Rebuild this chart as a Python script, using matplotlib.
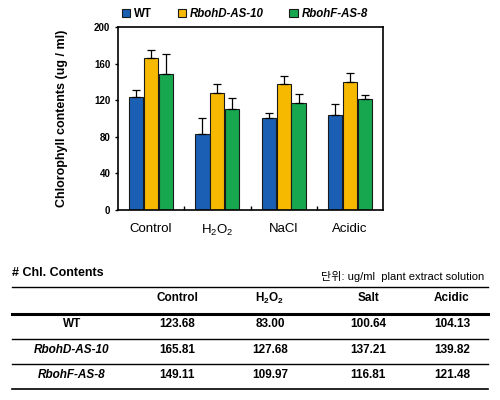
import numpy as np
import matplotlib
matplotlib.use("Agg")
import matplotlib.pyplot as plt
from matplotlib.lines import Line2D

plt.rcParams['font.family'] = ['Liberation Sans', 'Noto Sans CJK KR', 'DejaVu Sans']
plt.rcParams['mathtext.fontset'] = 'custom'
plt.rcParams['mathtext.rm'] = 'Liberation Sans'
plt.rcParams['mathtext.it'] = 'Liberation Sans:italic'
plt.rcParams['mathtext.bf'] = 'Liberation Sans:bold'

# data
groups = ['Control', r'$\mathregular{H_2O_2}$', 'NaCl', 'Acidic']
table_cols = ['Control', r'$\mathbf{H_2O_2}$', 'Salt', 'Acidic']
lines = ['WT', 'RbohD-AS-10', 'RbohF-AS-8']
wt = [123.68, 83.00, 100.64, 104.13]
rbohd = [165.81, 127.68, 137.21, 139.82]
rbohf = [149.11, 109.97, 116.81, 121.48]
wt_err = [8, 18, 5.5, 12]
rbohd_err = [9.5, 9.5, 9.5, 9.5]
rbohf_err = [21, 12, 10, 4.5]

colors = ['#1b5fb4', '#f7b900', '#17a84f']
values = [wt, rbohd, rbohf]
errs = [wt_err, rbohd_err, rbohf_err]

fig = plt.figure(figsize=(5, 4), dpi=100)
ax = fig.add_axes([0.236, 0.475, 0.53, 0.4575])

x = np.arange(len(groups))
w = 0.215
offs = [-0.225, 0, 0.225]
handles = []
for k in range(3):
    b = ax.bar(x + offs[k], values[k], w, color=colors[k], edgecolor='#1a1a1a',
               linewidth=0.8, zorder=2)
    ax.errorbar(x + offs[k], values[k],
                yerr=[np.zeros(len(groups)), errs[k]],
                fmt='none', ecolor='black', elinewidth=0.9, capsize=3,
                capthick=0.9, zorder=3)
    handles.append(b)

ax.set_xlim(-0.5, 3.5)
ax.set_ylim(0, 200)
ax.set_yticks(np.arange(0, 201, 40))
ax.set_xticks(x)
ax.set_xticklabels(groups, fontsize=9.5)
ax.tick_params(axis='x', length=0, pad=9)
ax.set_xticks(np.arange(0.5, 3.5, 1), minor=True)
ax.tick_params(axis='x', which='minor', direction='in', length=3, width=1)
ax.tick_params(axis='y', direction='out', length=2, labelsize=7, width=1)
for lab in ax.get_yticklabels():
    lab.set_fontweight('bold')
for s in ax.spines.values():
    s.set_linewidth(1.2)
ax.set_ylabel('Chlorophyll contents (ug / ml)', fontsize=9, fontweight='bold',
              labelpad=19)

leg = fig.legend(handles, lines, loc='center', bbox_to_anchor=(0.49, 0.966),
                 ncol=3, frameon=False, fontsize=8.3, handlelength=0.7,
                 handleheight=0.7, columnspacing=2.2, handletextpad=0.4)
for i, t in enumerate(leg.get_texts()):
    t.set_fontweight('bold')
    if i > 0:
        t.set_fontstyle('italic')

# table below the chart
def fy(py):
    return 1 - py / 400.0

fig.text(12 / 500, fy(273), '# Chl. Contents', fontsize=9, fontweight='bold',
         va='center', ha='left')
fig.text(484 / 500, fy(277), '단위: ug/ml  plant extract solution', fontsize=8,
         va='center', ha='right')

for py, lw in [(287, 1.0), (314, 2.2), (339, 1.0), (364, 1.0), (389, 1.2)]:
    fig.add_artist(Line2D([12 / 500, 488 / 500], [fy(py), fy(py)],
                          color='black', linewidth=lw))

col_x = [177, 270, 368, 452]
for j, c in enumerate(table_cols):
    fig.text(col_x[j] / 500, fy(298), c, fontsize=8.5, fontweight='bold',
             ha='center', va='center')

row_y = [324, 350, 375]
for i, name in enumerate(lines):
    fig.text(72 / 500, fy(row_y[i]), name, fontsize=8.5, fontweight='bold',
             ha='center', va='center', fontstyle='italic' if i > 0 else 'normal')
    for j in range(len(groups)):
        fig.text(col_x[j] / 500, fy(row_y[i]), '%.2f' % values[i][j],
                 fontsize=8.5, fontweight='bold', ha='center', va='center')

fig.savefig('out.png', dpi=100)
